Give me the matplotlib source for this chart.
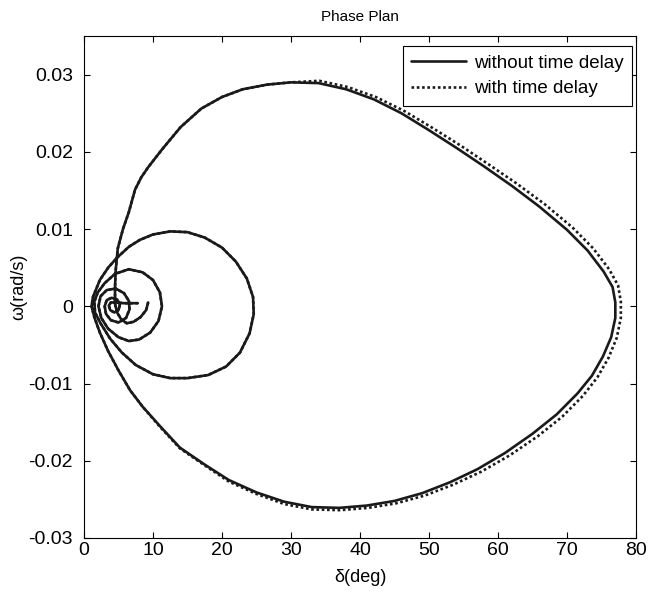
import matplotlib
matplotlib.use('Agg')
import matplotlib.pyplot as plt

plt.rcParams['font.family'] = ['Liberation Sans', 'DejaVu Sans']
plt.rcParams['axes.unicode_minus'] = False

# ── rotor angle (deg) / speed deviation (rad/s) samples ──────────────────────
# fault-on portion, shared by both runs
start_d = [9.3, 9.0, 8.2, 7.2, 6.2, 5.4, 4.8, 4.5, 4.5, 4.6]
start_w = [0.0005, -0.0005, -0.0014, -0.0020, -0.0022, -0.0017, -0.0008,
           0.0003, 0.0025, 0.0047]

# first (large) swing, without time delay
swing_d = [4.9, 5.65, 6.5, 7.4, 8.3, 9.3, 11.3, 14, 17, 20, 23, 26.5, 30, 34,
           38, 42, 46, 50, 54, 58, 62, 66, 70, 73, 75.3, 76.6, 77.0, 77.0,
           76.4, 75.2, 73.6, 71.5, 68.5, 65, 61, 57, 53, 49, 45, 41, 37, 33,
           29, 25, 21, 17.5, 13.9, 11, 8.5, 6.7, 5.0, 3.5, 2.3, 1.5, 1.1]
swing_w = [0.0075, 0.0100, 0.0122, 0.0151, 0.0167, 0.0180, 0.0203, 0.0232,
           0.0256, 0.0271, 0.0281, 0.0287, 0.0290, 0.0289, 0.0281, 0.0268,
           0.0250, 0.0228, 0.0205, 0.0181, 0.0156, 0.0129, 0.0099, 0.0072,
           0.0045, 0.0025, 0.0005, -0.0015, -0.0040, -0.0065, -0.0090,
           -0.0113, -0.0140, -0.0165, -0.0190, -0.0211, -0.0228, -0.0242,
           -0.0252, -0.0258, -0.0261, -0.0260, -0.0253, -0.0241, -0.0225,
           -0.0205, -0.0183, -0.0155, -0.0130, -0.0109, -0.0083, -0.0058,
           -0.0034, -0.0014, 0.0]

# first swing, with time delay
swing_delay_d = [4.9, 5.65, 6.5, 7.4, 8.3, 9.3, 11.3, 14, 17, 20, 23, 26.5,
                 30, 34.1, 38.2, 42.3, 46.4, 50.5, 54.6, 58.6, 62.7, 66.8,
                 70.8, 73.8, 76.1, 77.4, 77.8, 77.8, 77.2, 76.0, 74.4, 72.3,
                 69.3, 65.8, 61.7, 57.6, 53.5, 49.4, 45.3, 41.2, 37.1, 33, 29,
                 25, 21, 17.5, 13.9, 11, 8.5, 6.7, 5.0, 3.5, 2.3, 1.5, 1.1]
swing_delay_w = [0.0075, 0.0100, 0.0122, 0.0151, 0.0167, 0.0180, 0.0203,
                 0.0232, 0.0256, 0.0271, 0.0281, 0.0287, 0.0290, 0.0292,
                 0.0284, 0.0271, 0.0253, 0.0231, 0.0208, 0.0184, 0.0159,
                 0.0132, 0.0102, 0.0075, 0.0048, 0.0027, 0.0006, -0.0015,
                 -0.0041, -0.0067, -0.0092, -0.0116, -0.0143, -0.0168,
                 -0.0193, -0.0214, -0.0231, -0.0245, -0.0255, -0.0261,
                 -0.0264, -0.0263, -0.0256, -0.0243, -0.0227, -0.0206,
                 -0.0184, -0.0156, -0.0130, -0.0109, -0.0083, -0.0058,
                 -0.0034, -0.0014, 0.0]

# damped swings afterwards, shared by both runs
tail_d = [1.3, 2.3, 3.5, 4.8, 6.5, 8.1, 10.0, 12.5, 15.0, 17.5, 20.0, 22.0,
          23.6, 24.5, 24.6, 24.0, 22.6, 20.6, 18.0, 15.0, 12.5, 10.0, 7.5,
          5.5, 3.8, 2.4, 1.6, 1.5, 2.0, 3.0, 4.5, 6.5, 8.5, 10.0, 11.0, 11.3,
          10.8, 9.6, 8.0, 6.5, 5.0, 3.5, 2.5, 2.1, 2.4, 3.3, 4.6, 5.8, 6.5,
          6.6, 6.1, 5.0, 3.9, 3.2, 3.0, 3.3, 4.0, 4.8, 5.2, 5.0, 4.4, 3.8,
          3.6, 3.9, 4.6, 5.8, 7.8]
tail_w = [0.0012, 0.0034, 0.0050, 0.0063, 0.0077, 0.0086, 0.0093, 0.0097,
          0.0096, 0.0089, 0.0076, 0.0058, 0.0036, 0.0012, -0.0010, -0.0035,
          -0.0060, -0.0078, -0.0089, -0.0093, -0.0093, -0.0088, -0.0076,
          -0.0060, -0.0042, -0.0022, -0.0008, 0.0006, 0.0018, 0.0030, 0.0042,
          0.0048, 0.0044, 0.0034, 0.0018, 0.0000, -0.0019, -0.0034, -0.0043,
          -0.0045, -0.0040, -0.0029, -0.0015, 0.0000, 0.0013, 0.0021, 0.0023,
          0.0017, 0.0007, -0.0004, -0.0015, -0.0021, -0.0018, -0.0010, 0.0000,
          0.0008, 0.0011, 0.0009, 0.0002, -0.0005, -0.0008, -0.0005, 0.0001,
          0.0005, 0.0005, 0.0004, 0.0004]

x_ticks = [0, 10, 20, 30, 40, 50, 60, 70, 80]
y_ticks = [-0.03, -0.02, -0.01, 0, 0.01, 0.02, 0.03]
y_tick_labels = ['-0.03', '-0.02', '-0.01', '0', '0.01', '0.02', '0.03']

# ── figure ───────────────────────────────────────────────────────────────────
fig = plt.figure(figsize=(6.51, 5.94), dpi=100)
ax = fig.add_axes([0.129, 0.0943, 0.848, 0.8451])

ink = '#1a1a1a'
nodelay_d = start_d + swing_d + tail_d
nodelay_w = start_w + swing_w + tail_w
delay_d = start_d + swing_delay_d + tail_d
delay_w = start_w + swing_delay_w + tail_w

ax.plot(nodelay_d, nodelay_w, color=ink, lw=1.9, ls='-',
        solid_joinstyle='round', solid_capstyle='round',
        label='without time delay')
ax.plot(delay_d, delay_w, color=ink, lw=1.9, ls=(0, (1, 1)),
        label='with time delay')

ax.set_xlim(0, 80)
ax.set_ylim(-0.03, 0.035)
ax.set_xticks(x_ticks)
ax.set_yticks(y_ticks)
ax.set_yticklabels(y_tick_labels)
ax.tick_params(direction='in', top=True, right=True, length=4, width=0.8,
               labelsize=14, colors='black')
ax.tick_params(axis='x', pad=3)
ax.tick_params(axis='y', pad=8)
for s in ax.spines.values():
    s.set_linewidth(0.8)

ax.set_xlabel('δ(deg)', fontsize=13, labelpad=7)
ax.set_ylabel('ω(rad/s)', fontsize=13, labelpad=1)
ax.set_title('Phase Plan', fontsize=11, pad=11)

leg = ax.legend(loc='upper right', bbox_to_anchor=(0.9928, 0.980),
                borderaxespad=0, fontsize=13.5, handlelength=2.9,
                handletextpad=0.45, labelspacing=0.45, borderpad=0.45,
                fancybox=False, framealpha=1, edgecolor='black')
leg.get_frame().set_linewidth(0.8)

fig.savefig('out.png', dpi=100)
